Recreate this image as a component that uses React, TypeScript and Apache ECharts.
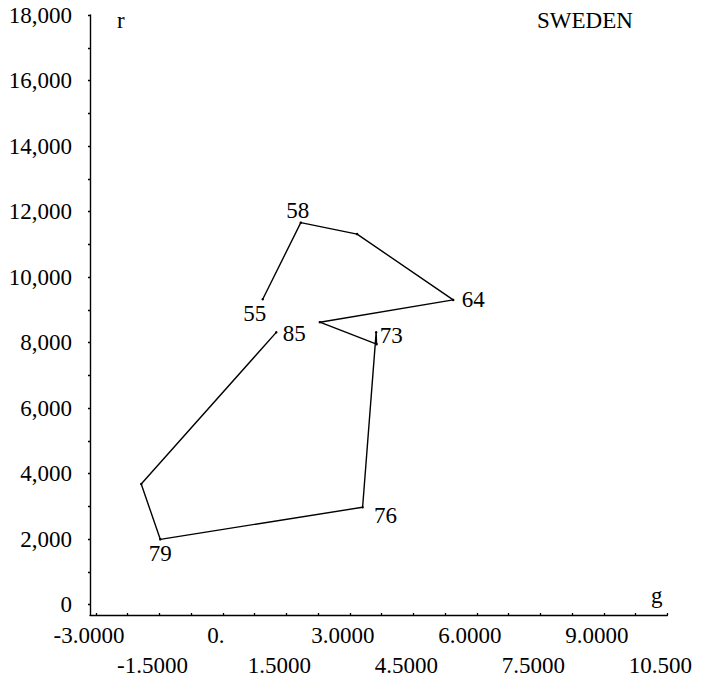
import React, { useEffect, useRef } from "react";
import * as echarts from "echarts";

// Growth (g) against rate (r) for Sweden, sampled every third year 1955–1985
const years = ["55", "58", "61", "64", "67", "70", "73", "76", "79", "82", "85"];
const gValues = [0.94, 1.84, 3.17, 5.44, 2.29, 3.63, 3.62, 3.3, -1.48, -1.93, 1.26];
const rValues = [9320, 11660, 11310, 9300, 8620, 7950, 8310, 2970, 1990, 3680, 8310];
const labelledYears = ["55", "58", "64", "73", "76", "79", "85"];

// Axis tick positions and printed labels (x labels alternate between two rows)
const xTickValues = [-3, -2.25, -1.5, -0.75, 0, 0.75, 1.5, 2.25, 3, 3.75, 4.5, 5.25, 6, 6.75, 7.5, 8.25, 9, 9.75, 10.5];
const xUpperValues = [-3, 0, 3, 6, 9];
const xUpperTexts = ["-3.0000", "0.", "3.0000", "6.0000", "9.0000"];
const xLowerValues = [-1.5, 1.5, 4.5, 7.5, 10.5];
const xLowerTexts = ["-1.5000", "1.5000", "4.5000", "7.5000", "10.500"];
const yTickValues = [0, 1000, 2000, 3000, 4000, 5000, 6000, 7000, 8000, 9000, 10000, 11000, 12000, 13000, 14000, 15000, 16000, 17000, 18000];
const yLabelValues = [0, 2000, 4000, 6000, 8000, 10000, 12000, 14000, 16000, 18000];
const yLabelTexts = ["0", "2,000", "4,000", "6,000", "8,000", "10,000", "12,000", "14,000", "16,000", "18,000"];

const FONT = "'Liberation Serif', 'Times New Roman', serif";
const FONT_SIZE = 23;
const SYMBOL = 2.5;
const X_MIN = -3.14;
const X_MAX = 10.5;

// Where each year label's centre sits relative to its point
const labelOffsets: Record<string, [number, number]> = {
  "55": [-8, 14],
  "58": [-3, -12],
  "64": [20, 0],
  "73": [15, 3],
  "76": [23, 8],
  "79": [0, 14],
  "85": [18, 1],
};

const lookup = (values: number[], texts: string[]) => (v: number) => {
  const i = values.findIndex((x) => Math.abs(x - v) < 1e-6);
  return i < 0 ? "" : texts[i];
};

export default function App() {
  const ref = useRef<HTMLDivElement>(null);

  useEffect(() => {
    if (!ref.current) return;
    const chart = echarts.init(ref.current, undefined, { renderer: "svg" });

    const data = years.map((yr, i) => {
      const shown = labelledYears.includes(yr);
      const off = labelOffsets[yr] || [0, 0];
      return {
        value: [gValues[i], rValues[i]],
        name: yr,
        label: shown
          ? {
              show: true,
              position: [off[0] + SYMBOL / 2, off[1] + SYMBOL / 2],
              align: "center",
              verticalAlign: "middle",
              formatter: yr,
              color: "#000",
              fontSize: FONT_SIZE,
              fontFamily: FONT,
            }
          : { show: false },
      };
    });

    const xLabelStyle = {
      showMinLabel: true,
      showMaxLabel: true,
      hideOverlap: false,
      color: "#000",
      fontSize: FONT_SIZE,
      fontFamily: FONT,
      lineHeight: 30,
      padding: [0, 14, 0, 0],
    };

    chart.setOption({
      animation: false,
      backgroundColor: "#fff",
      title: {
        text: "SWEDEN",
        left: 537,
        top: 9,
        padding: 0,
        textStyle: { color: "#000", fontSize: FONT_SIZE, fontWeight: "normal", fontFamily: FONT },
      },
      grid: { left: 90, right: 37, top: 15, bottom: 72 },
      xAxis: [
        {
          type: "value",
          min: X_MIN,
          max: X_MAX,
          splitLine: { show: false },
          axisLine: { show: true, onZero: false, lineStyle: { color: "#000", width: 1.4 } },
          axisTick: {
            show: true,
            customValues: xTickValues,
            length: 2,
            inside: true,
            lineStyle: { color: "#000", width: 1.3 },
          },
          axisLabel: {
            ...xLabelStyle,
            customValues: xUpperValues,
            margin: 5,
            formatter: lookup(xUpperValues, xUpperTexts),
          },
        },
        {
          type: "value",
          min: X_MIN,
          max: X_MAX,
          position: "bottom",
          splitLine: { show: false },
          axisLine: { show: false, onZero: false },
          axisTick: { show: false },
          axisLabel: {
            ...xLabelStyle,
            customValues: xLowerValues,
            margin: 35,
            formatter: lookup(xLowerValues, xLowerTexts),
          },
        },
      ],
      yAxis: {
        type: "value",
        min: -320,
        max: 18000,
        splitLine: { show: false },
        axisLine: { show: true, onZero: false, lineStyle: { color: "#000", width: 1.4 } },
        axisTick: {
          show: true,
          customValues: yTickValues,
          length: 2,
          lineStyle: { color: "#000", width: 1.3 },
        },
        axisLabel: {
          customValues: yLabelValues,
          showMinLabel: true,
          showMaxLabel: true,
          hideOverlap: false,
          color: "#000",
          fontSize: FONT_SIZE,
          fontFamily: FONT,
          margin: 18,
          formatter: lookup(yLabelValues, yLabelTexts),
        },
      },
      graphic: [
        {
          type: "text",
          left: 117,
          top: 9,
          style: { text: "r", fill: "#000", fontSize: FONT_SIZE, fontFamily: FONT },
        },
        {
          type: "text",
          left: 651,
          top: 584,
          style: { text: "g", fill: "#000", fontSize: FONT_SIZE, fontFamily: FONT },
        },
      ],
      series: [
        {
          type: "line",
          xAxisIndex: 0,
          data,
          symbol: "circle",
          symbolSize: SYMBOL,
          itemStyle: { color: "#000" },
          lineStyle: { color: "#000", width: 1.4 },
          labelLayout: { hideOverlap: false },
        },
      ],
    });

    return () => chart.dispose();
  }, []);

  return (
    <div
      ref={ref}
      style={{ position: "fixed", left: 0, top: 0, width: 709, height: 687, background: "#fff" }}
    />
  );
}
